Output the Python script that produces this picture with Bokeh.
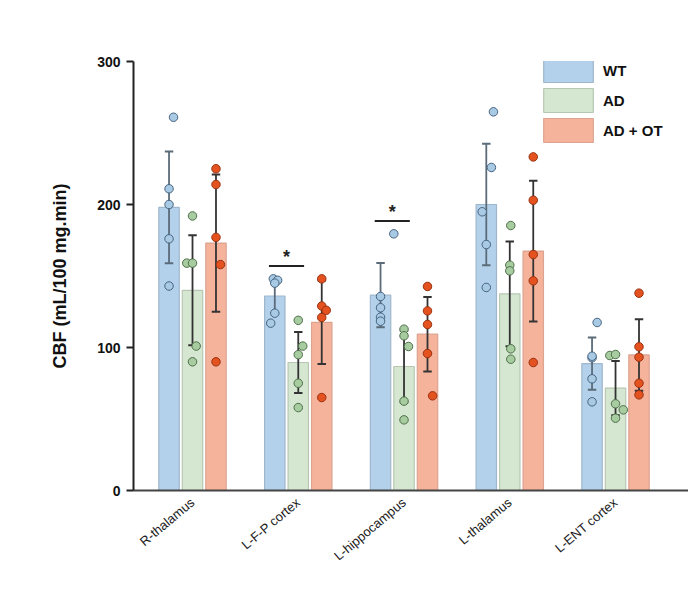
import math
from bokeh.plotting import figure
from bokeh.models import ColumnDataSource, FixedTicker, Legend, LegendItem, Range1d
from bokeh.core.properties import value
from bokeh.embed import file_html
from bokeh.resources import INLINE

# ---------------- data ----------------
regions = ["R-thalamus", "L-F-P cortex", "L-hippocampus", "L-thalamus", "L-ENT cortex"]
groups = ["WT", "AD", "AD + OT"]

wt_mean = [198, 136, 136.6, 200, 88.7]
ad_mean = [140, 89.5, 86.7, 137.5, 71.6]
ot_mean = [173, 117.6, 109.3, 167.4, 94.8]

wt_sd = [39, 12, 22.5, 42.4, 18.3]
ad_sd = [38.5, 21.4, 25, 36.6, 19]
ot_sd = [48, 29.2, 26, 49.2, 25]

wt_points = [[261, 211, 200, 176, 143],
             [148, 147, 145, 124, 117],
             [179.5, 135.7, 127.8, 121.2, 118.4],
             [264.8, 225.9, 194.9, 172, 142],
             [117.5, 92.8, 93.9, 78.1, 62]]
ad_points = [[192, 159, 159, 101, 90],
             [119, 101, 95, 75, 58],
             [112.8, 108.2, 100.7, 62.5, 49.4],
             [185.3, 157.6, 153.6, 99.1, 91.8],
             [94.4, 95.1, 60.6, 56.4, 50.6]]
ot_points = [[225, 214, 177, 158, 90],
             [148, 129, 126, 121, 65],
             [142.7, 125.6, 116.1, 95.8, 66.2],
             [233.3, 203, 165, 146.6, 89.5],
             [138, 100.5, 93.2, 75, 66.9]]

# significance (WT vs AD) in these regions
sig_regions = [1, 2]
sig_labels = ["*", "*"]

y_ticks = [0, 100, 200, 300]

# ---------------- style ----------------
bar_fill = ["#b3d1ea", "#d5e7d0", "#f6b39b"]
bar_line = ["#9fb7cc", "#b7c7b3", "#dca390"]
pt_fill = ["#a9cae5", "#a7cc9f", "#e4531f"]
pt_line = ["#46637f", "#4f6f4b", "#9a3212"]
err_col = ["#5b6b79", "#333333", "#333333"]
offsets = [-0.222, 0.0, 0.222]
bar_w = 0.193
cap_w = 0.08
# small horizontal jitter (fraction of bar width) to avoid overlapping dots
jit = [[0.22, 0.0, 0.0, 0.0, 0.0],
       [-0.07, 0.14, 0.0, 0.0, -0.2],
       [0.65, 0.0, 0.0, 0.0, 0.0],
       [0.35, 0.25, -0.2, 0.0, 0.0],
       [0.25, 0.0, 0.0, 0.0, 0.0]]
jit_ad = [[0.0, -0.28, 0.0, 0.18, 0.0],
          [0.0, 0.22, 0.0, 0.0, 0.0],
          [0.0, 0.0, 0.22, 0.0, 0.0],
          [0.05, 0.0, 0.0, 0.05, 0.05],
          [-0.28, 0.0, 0.0, 0.38, 0.0]]
jit_ot = [[0.0, 0.0, 0.0, 0.22, 0.0],
          [0.0, 0.0, 0.22, 0.0, 0.0],
          [0.0, 0.0, 0.0, 0.0, 0.25],
          [0.0, 0.0, 0.0, 0.0, 0.0],
          [0.0, 0.0, 0.0, 0.0, 0.0]]

p = figure(width=688, height=584, output_backend="svg", toolbar_location=None,
           x_range=Range1d(-0.558, 4.69), y_range=Range1d(0, 300),
           min_border_left=133, min_border_right=0, min_border_top=61, min_border_bottom=94)
p.outline_line_color = None
p.xgrid.visible = False
p.ygrid.visible = False
p.background_fill_color = "white"
p.border_fill_color = "white"

means = [wt_mean, ad_mean, ot_mean]
sds = [wt_sd, ad_sd, ot_sd]
pts = [wt_points, ad_points, ot_points]
jits = [jit, jit_ad, jit_ot]

bar_renderers = []
for g in range(3):
    xs = [i + offsets[g] for i in range(len(regions))]
    src = ColumnDataSource(dict(x=xs, top=means[g]))
    r = p.vbar(x="x", top="top", bottom=0, width=bar_w, source=src,
               fill_color=bar_fill[g], line_color=bar_line[g], line_width=1.2)
    bar_renderers.append(r)

for g in range(3):
    xs = [i + offsets[g] for i in range(len(regions))]
    up = [m + s for m, s in zip(means[g], sds[g])]
    lo = [m - s for m, s in zip(means[g], sds[g])]
    p.segment(x0=xs, x1=xs, y0=lo, y1=up, line_color=err_col[g], line_width=1.8)
    p.segment(x0=[x - cap_w / 2 for x in xs], x1=[x + cap_w / 2 for x in xs], y0=up, y1=up,
              line_color=err_col[g], line_width=2)
    p.segment(x0=[x - cap_w / 2 for x in xs], x1=[x + cap_w / 2 for x in xs], y0=lo, y1=lo,
              line_color=err_col[g], line_width=2)

for g in range(3):
    px, py = [], []
    for i in range(len(regions)):
        for k, v in enumerate(pts[g][i]):
            px.append(i + offsets[g] + jits[g][i][k] * bar_w)
            py.append(v)
    p.scatter(px, py, size=8.5, fill_color=pt_fill[g], line_color=pt_line[g], line_width=1)

# significance brackets
for i, lab in zip(sig_regions, sig_labels):
    top = max(max(wt_points[i]), max(ad_points[i]), wt_mean[i] + wt_sd[i], ad_mean[i] + ad_sd[i]) + 9
    x0 = i + offsets[0] - 0.055
    x1 = i + offsets[1] + 0.055
    p.segment(x0=[x0], x1=[x1], y0=[top], y1=[top], line_color="#222222", line_width=2)
    p.text(x=[(x0 + x1) / 2], y=[top], text=[lab], text_align="center", text_baseline="middle",
           y_offset=-9, text_font=value("Liberation Sans"), text_font_size="18px",
           text_font_style="bold", text_color="#222222")

# axes
yax = p.yaxis[0]
yax.ticker = FixedTicker(ticks=y_ticks)
yax.axis_label = "CBF (mL/100 mg.min)"
yax.axis_label_text_font = "Liberation Sans"
yax.axis_label_text_font_size = "18px"
yax.axis_label_text_font_style = "bold"
yax.axis_label_text_color = "#111111"
yax.axis_label_standoff = 24
yax.major_label_text_font = "Liberation Sans"
yax.major_label_text_font_size = "14px"
yax.major_label_text_font_style = "bold"
yax.major_label_text_color = "#111111"
yax.major_label_standoff = 6
yax.axis_line_width = 2
yax.axis_line_color = "#222222"
yax.major_tick_line_width = 2
yax.major_tick_line_color = "#222222"
yax.major_tick_in = 0
yax.major_tick_out = 7
yax.minor_tick_line_color = None

xax = p.xaxis[0]
xax.ticker = FixedTicker(ticks=list(range(len(regions))))
xax.major_label_overrides = {i: name for i, name in enumerate(regions)}
xax.major_label_orientation = math.radians(40)
xax.major_label_text_font = "Liberation Sans"
xax.major_label_text_font_size = "13px"
xax.major_label_text_color = "#1a1a1a"
xax.major_label_standoff = 4
xax.major_tick_line_color = None
xax.minor_tick_line_color = None
xax.axis_line_width = 2
xax.axis_line_color = "#444444"

legend = Legend(items=[LegendItem(label=groups[g], renderers=[bar_renderers[g]]) for g in range(3)],
                location=(404, 345), orientation="vertical",
                glyph_width=62, glyph_height=30, spacing=-2, padding=0, margin=0,
                label_standoff=4, label_text_font="Liberation Sans", label_text_font_size="15px",
                label_text_font_style="bold", label_text_color="#111111",
                border_line_color=None, background_fill_alpha=0)
p.add_layout(legend)

open("out.html", "w").write(file_html(p, INLINE))
